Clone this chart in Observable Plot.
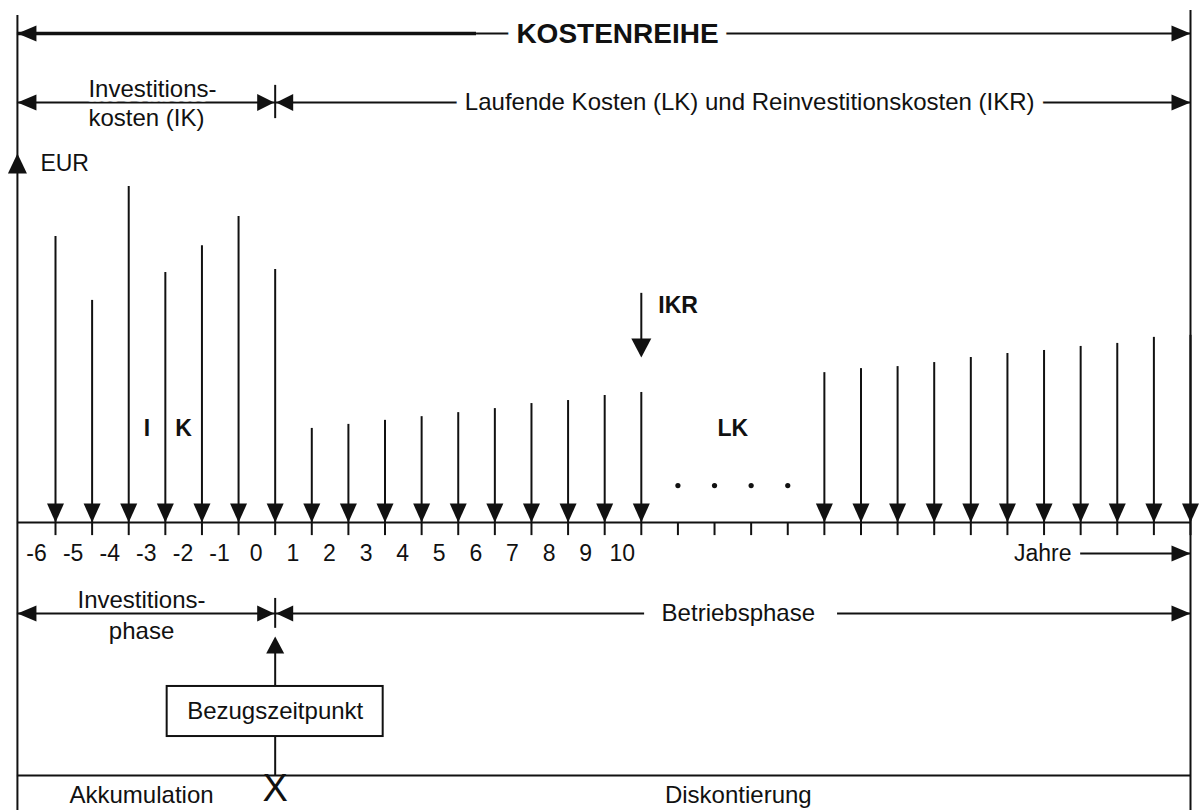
<!DOCTYPE html>
<html>
<head>
<meta charset="utf-8">
<script src="https://cdn.jsdelivr.net/npm/d3@7"></script>
<script src="https://cdn.jsdelivr.net/npm/@observablehq/plot@0.6"></script>
<style>
  html, body { margin: 0; padding: 0; background: #fff; }
  #chart svg { display: block; }
</style>
</head>
<body>
<div id="chart"></div>
<script>
// ---------------- data (EUR, arbitrary units; tallest payment = 100) ----------------
const ikYears   = [-6, -5, -4, -3, -2, -1, 0];
const ikValues  = [85.1, 66.1, 100, 74.4, 82.4, 91.1, 75.3];
const lkYears1  = [1, 2, 3, 4, 5, 6, 7, 8, 9, 10];
const lkValues1 = [28.0, 29.2, 30.4, 31.5, 32.7, 33.9, 35.4, 36.3, 37.8, 38.7];
const gapYears  = [11, 12, 13, 14];
const lkYears2  = [15, 16, 17, 18, 19, 20, 21, 22, 23, 24, 25];
const lkValues2 = [44.6, 45.8, 46.4, 47.6, 49.1, 50.3, 51.2, 52.4, 53.3, 55.1, 55.7];
const tickLabels = [-6, -5, -4, -3, -2, -1, 0, 1, 2, 3, 4, 5, 6, 7, 8, 9, 10];
const ikrYear = 10, ikrTop = 68.2, ikrTip = 49.1;

// ---------------- layout rows (in chart units) ----------------
const LEFT = -7.04, RIGHT = 25;
const TOP_L = 150.9, TOP_R = 152.4, BOTTOM = -86;
const ROW_TOP = 145.5, ROW_IK = 125, TICK_IK = [130.1, 120.2];
const EUR_TIP = 109.8, EUR_Y = 106.8;
const IKR_TEXT_Y = 64.6, IK_TEXT_Y = 28, DOT_Y = 11, TICK_BOTTOM = -3.9;
const LABEL_Y = -9.2, ROW_PHASE = -27.1, TICK_PHASE = [-22.6, -31.5];
const UP_TIP = -33.9, BOX_TOP = -48.8, BOX_BOTTOM = -63.7, BOX_Y = -56.25, BOX_HALF = 2.95;
const ROW_BOTTOM = -75.3, X_Y = -79.2, BOTTOM_TEXT_Y = -81.3;
const TITLE_X = 9.35, THICK_END = 5.5, LK_TEXT_X = 12.96, IK_TEXT_X = -5.1;
const PHASE_X = -3.65, BETRIEB_X = 12.65, BETRIEB_GAP = [10.09, 15.36];
const JAHRE_END = 21.75, JAHRE_ARROW = 22.0;

const arrows = [
  ...ikYears.map((year, i) => ({year, value: ikValues[i]})),
  ...lkYears1.map((year, i) => ({year, value: lkValues1[i]})),
  ...lkYears2.map((year, i) => ({year, value: lkValues2[i]}))
];
const allTicks = d3.range(-6, 26);

// filled triangle symbols with the tip at the anchor point
function tri(dir, L, W) {
  const h = W / 2;
  return {draw(ctx) {
    if (dir === "down") { ctx.moveTo(0, 0); ctx.lineTo(-h, -L); ctx.lineTo(h, -L); }
    else if (dir === "up") { ctx.moveTo(0, 0); ctx.lineTo(-h, L); ctx.lineTo(h, L); }
    else if (dir === "right") { ctx.moveTo(0, 0); ctx.lineTo(-L, -h); ctx.lineTo(-L, h); }
    else { ctx.moveTo(0, 0); ctx.lineTo(L, -h); ctx.lineTo(L, h); }
    ctx.closePath();
  }};
}
const INK = "#111";
const FONT = "'Liberation Sans', Arial, Helvetica, sans-serif";

function head(points, dir, L, W, extra = {}) {
  return Plot.dot(points, {x: "x", y: "y", symbol: tri(dir, L, W), fill: INK, stroke: "none", ...extra});
}
function label(items, opts, halo) {
  const base = {x: "x", y: "y", text: "t", fontFamily: FONT, ...opts};
  const marks = [];
  if (halo) marks.push(Plot.text(items, {...base, fill: "white", stroke: "white", strokeWidth: halo, strokeLinejoin: "round"}));
  marks.push(Plot.text(items, {...base, fill: INK}));
  return marks;
}
function hline(y, x1, x2, w = 2) {
  return Plot.ruleY([y], {y: d => d, x1, x2, stroke: INK, strokeWidth: w});
}

const chart = Plot.plot({
  width: 1200,
  height: 810,
  margin: 0,
  x: {domain: [-6, 25], range: [55, 1190], axis: null},
  y: {domain: [0, 100], range: [522, 186], axis: null},
  style: {background: "white", fontFamily: FONT},
  marks: [
    // borders
    Plot.ruleX([LEFT], {x: d => d, y1: TOP_L, y2: BOTTOM, stroke: INK, strokeWidth: 2}),
    Plot.ruleX([RIGHT], {x: d => d, y1: TOP_R, y2: BOTTOM, stroke: INK, strokeWidth: 2}),

    // top row: KOSTENREIHE
    hline(ROW_TOP, LEFT, THICK_END, 3.5),
    hline(ROW_TOP, THICK_END, RIGHT, 2),
    head([{x: LEFT, y: ROW_TOP}], "left", 19, 16),
    head([{x: RIGHT, y: ROW_TOP}], "right", 19, 16),
    ...label([{x: TITLE_X, y: ROW_TOP, t: "KOSTENREIHE"}], {fontSize: 28, fontWeight: "bold"}, 20),

    // second row: IK | LK + IKR
    hline(ROW_IK, LEFT, RIGHT, 2),
    Plot.ruleX([0], {x: d => d, y1: TICK_IK[0], y2: TICK_IK[1], stroke: INK, strokeWidth: 2}),
    head([{x: LEFT, y: ROW_IK}], "left", 19, 16),
    head([{x: 0, y: ROW_IK}], "right", 17, 17, {dx: -1}),
    head([{x: 0, y: ROW_IK}], "left", 17, 17, {dx: 1}),
    head([{x: RIGHT, y: ROW_IK}], "right", 19, 16),
    ...label([{x: IK_TEXT_X, y: ROW_IK, t: "Investitions-\nkosten (IK)"}], {fontSize: 24, textAnchor: "start", lineHeight: 1.17}, 9),
    ...label([{x: LK_TEXT_X, y: ROW_IK, t: "Laufende Kosten (LK) und Reinvestitionskosten (IKR)"}], {fontSize: 24}, 20),

    // EUR axis arrow
    head([{x: LEFT, y: EUR_TIP}], "up", 20, 19),
    ...label([{x: LEFT, y: EUR_Y, t: "EUR"}], {fontSize: 23, textAnchor: "start", dx: 23}),

    // time axis and ticks
    hline(0, LEFT, RIGHT, 2),
    Plot.ruleX(allTicks, {x: d => d, y1: 0, y2: TICK_BOTTOM, stroke: INK, strokeWidth: 2}),

    // payment arrows
    Plot.ruleX(arrows, {x: "year", y1: 0, y2: "value", stroke: INK, strokeWidth: 2}),
    Plot.dot(arrows, {x: "year", y: 0, symbol: tri("down", 19, 17), fill: INK, stroke: "none"}),

    // IKR arrow
    Plot.ruleX([ikrYear], {x: d => d, y1: ikrTop, y2: ikrTip + 3, stroke: INK, strokeWidth: 2}),
    head([{x: ikrYear, y: ikrTip}], "down", 19, 20),
    ...label([{x: ikrYear, y: IKR_TEXT_Y, t: "IKR"}], {fontSize: 23, fontWeight: "bold", textAnchor: "start", dx: 17}),

    // series labels
    ...label([{x: -3.5, y: IK_TEXT_Y, t: "I"}, {x: -2.5, y: IK_TEXT_Y, t: "K"}], {fontSize: 23, fontWeight: "bold"}),
    ...label([{x: 12.5, y: IK_TEXT_Y, t: "LK"}], {fontSize: 23, fontWeight: "bold"}),

    // ellipsis dots
    Plot.dot(gapYears, {x: d => d, y: DOT_Y, r: 2.6, fill: INK, stroke: "none"}),

    // tick labels
    ...label(tickLabels.map(v => ({x: v, y: LABEL_Y, t: String(v)})), {fontSize: 23, dx: -19}),

    // Jahre
    ...label([{x: JAHRE_END, y: LABEL_Y, t: "Jahre"}], {fontSize: 23, textAnchor: "end"}),
    hline(LABEL_Y, JAHRE_ARROW, RIGHT, 2),
    head([{x: RIGHT, y: LABEL_Y}], "right", 19, 16),

    // phase row
    hline(ROW_PHASE, LEFT, BETRIEB_GAP[0], 2),
    hline(ROW_PHASE, BETRIEB_GAP[1], RIGHT, 2),
    Plot.ruleX([0], {x: d => d, y1: TICK_PHASE[0], y2: TICK_PHASE[1], stroke: INK, strokeWidth: 2}),
    head([{x: LEFT, y: ROW_PHASE}], "left", 19, 16),
    head([{x: 0, y: ROW_PHASE}], "right", 17, 16, {dx: -1}),
    head([{x: 0, y: ROW_PHASE}], "left", 17, 16, {dx: 1}),
    head([{x: RIGHT, y: ROW_PHASE}], "right", 19, 16),
    ...label([{x: PHASE_X, y: ROW_PHASE, t: "Investitions-\nphase"}], {fontSize: 24, lineHeight: 1.3}, 6),
    ...label([{x: BETRIEB_X, y: ROW_PHASE, t: "Betriebsphase"}], {fontSize: 24}),

    // Bezugszeitpunkt
    Plot.ruleX([0], {x: d => d, y1: BOX_TOP, y2: UP_TIP - 3, stroke: INK, strokeWidth: 2}),
    head([{x: 0, y: UP_TIP}], "up", 17, 18),
    Plot.ruleX([0], {x: d => d, y1: BOX_BOTTOM, y2: ROW_BOTTOM, stroke: INK, strokeWidth: 2}),
    Plot.rect([0], {x1: -BOX_HALF, x2: BOX_HALF, y1: BOX_BOTTOM, y2: BOX_TOP, fill: "white", stroke: INK, strokeWidth: 2}),
    ...label([{x: 0, y: BOX_Y, t: "Bezugszeitpunkt"}], {fontSize: 24}),

    // bottom row
    hline(ROW_BOTTOM, LEFT, RIGHT, 2),
    ...label([{x: 0, y: X_Y, t: "X"}], {fontSize: 38}),
    ...label([{x: PHASE_X, y: BOTTOM_TEXT_Y, t: "Akkumulation"}], {fontSize: 24}),
    ...label([{x: BETRIEB_X, y: BOTTOM_TEXT_Y, t: "Diskontierung"}], {fontSize: 24})
  ]
});
document.getElementById("chart").appendChild(chart);
</script>
</body>
</html>
